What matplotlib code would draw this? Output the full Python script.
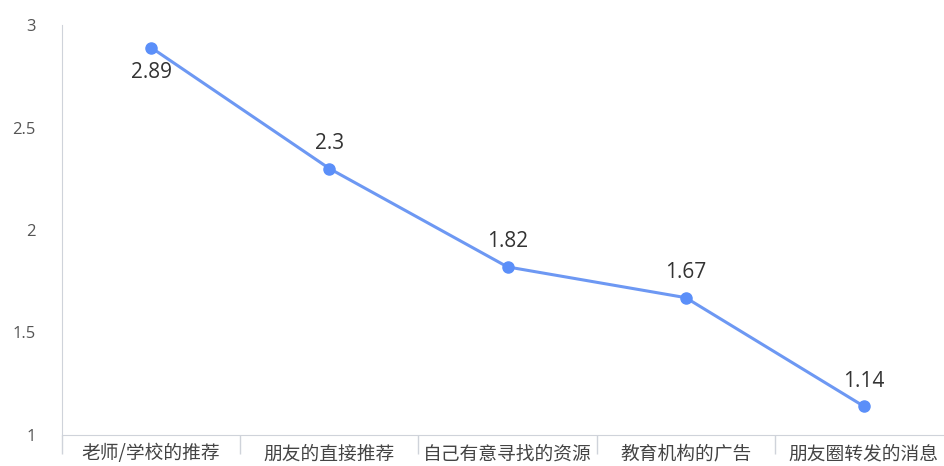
import matplotlib
matplotlib.use('Agg')
import matplotlib.pyplot as plt

plt.rcParams['font.family'] = ['Noto Sans CJK SC', 'DejaVu Sans']

categories = ['老师/学校的推荐', '朋友的直接推荐', '自己有意寻找的资源', '教育机构的广告', '朋友圈转发的消息']
scores = [2.89, 2.3, 1.82, 1.67, 1.14]
yticks = [1, 1.5, 2, 2.5, 3]
ytick_labels = ['1', '1.5', '2', '2.5', '3']

line_color = '#6d98f3'
axis_color = '#cfd3da'

fig = plt.figure(figsize=(9.44, 4.66), dpi=100)
ax = fig.add_axes([62/944, 1-435/466, 891/944, 410/466])

x = list(range(len(categories)))
ax.plot(x, scores, color=line_color, lw=2.2, marker='o', ms=8,
        mfc='#5b8ff9', mec='#5b8ff9', zorder=3, clip_on=False)

for i, v in enumerate(scores):
    dy = -25 if i == 0 else 25
    ax.annotate(f'{v:g}', (i, v), xytext=(0, dy*0.72), textcoords='offset points',
                ha='center', va='center', fontsize=15, color='#333333',
                family=['Open Sans', 'DejaVu Sans'])

ax.set_xlim(-0.5, len(categories)-0.5)
ax.set_ylim(1, 3)
ax.set_yticks(yticks)
ax.set_yticklabels(ytick_labels, fontsize=12, color='#555555', family=['Open Sans', 'DejaVu Sans'])
ax.tick_params(axis='y', length=0, pad=19)

# category boundaries as x ticks
ax.set_xticks([i - 0.5 for i in range(len(categories)+1)])
ax.set_xticklabels([])
ax.set_xticks(x, minor=True)
ax.set_xticklabels(categories, minor=True, fontsize=13.5, color='#444444')
ax.tick_params(axis='x', which='major', length=14, color=axis_color, width=1)
ax.tick_params(axis='x', which='minor', length=0, pad=6)

for s in ['top', 'right']:
    ax.spines[s].set_visible(False)
ax.spines['left'].set_color(axis_color)
ax.spines['bottom'].set_color(axis_color)
ax.spines['left'].set_bounds(1, 3)

fig.savefig('out.png', dpi=100)
